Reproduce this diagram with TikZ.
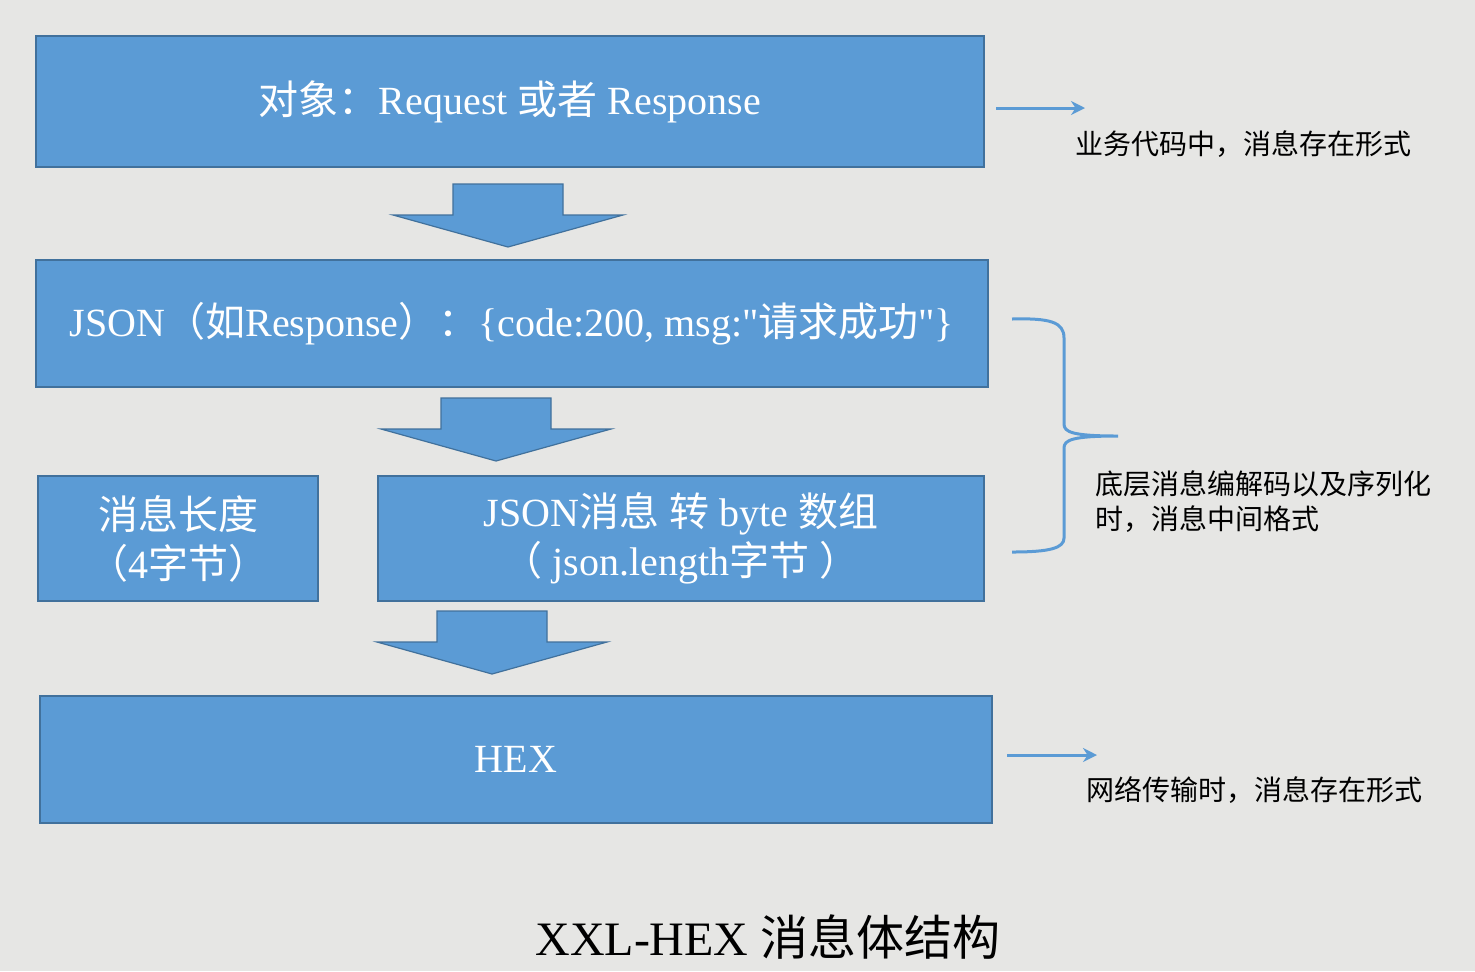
\documentclass[tikz,border=0pt]{standalone}
\usepackage{fontspec}
\setmainfont{Liberation Serif}
\newfontfamily\cjk{Noto Sans CJK SC}
\usepackage{tikz}
\usetikzlibrary{arrows.meta}
\definecolor{boxblue}{HTML}{5B9BD5}
\definecolor{boxedge}{HTML}{41719C}
\definecolor{paper}{HTML}{E6E6E4}
\tikzstyle{bluebox} = [rectangle, draw=boxedge, fill=boxblue, line width=1pt, text=white, align=center, inner sep=0pt, font=\fontsize{20}{24.5}\selectfont]
\tikzstyle{blockarrow} = [draw=boxedge, fill=boxblue, line width=0.6pt]
\tikzstyle{sidearrow} = [draw=boxblue, line width=1.5pt, -{Stealth[length=7pt,width=7pt]}]
\tikzstyle{brace} = [draw=boxblue, line width=1.5pt]
\tikzstyle{note} = [align=left, inner sep=0pt, font=\cjk\fontsize{14}{17.5}\selectfont]
\newcommand{\downblock}[1]{%
  \draw[blockarrow] (#1) ++(-55,0) -- ++(110,0) -- ++(0,31) -- ++(60,0) -- ++(-115,32) -- ++(-115,-32) -- ++(60,0) -- cycle;}

\begin{document}
\begin{tikzpicture}[x=0.5pt, y=-0.5pt]
    %背景
    \fill[paper] (0,0) rectangle (1475,971);

    %各层方框
    \node (obj) [bluebox, minimum width=474pt, minimum height=65.5pt] at (510,101.5) {{\cjk 对象：}Request {\cjk 或者} Response};
    \node (json) [bluebox, minimum width=476pt, minimum height=63.5pt] at (512,323.5) {JSON{\cjk （如}Response{\cjk ）：}\{code:200, msg:\textquotedbl{\cjk 请求成功}\textquotedbl\}};
    \node (len) [bluebox, minimum width=140pt, minimum height=62.5pt] at (178,538.5) {{\cjk 消息长度}\\{\cjk （}4{\cjk 字节）}};
    \node (body) [bluebox, minimum width=303pt, minimum height=62.5pt] at (681,538.5) {JSON{\cjk 消息} {\cjk 转} byte {\cjk 数组}\\{\cjk （} json.length{\cjk 字节} {\cjk ）}};
    \node (hex) [bluebox, minimum width=476pt, minimum height=63.5pt] at (516,759.5) {HEX};

    %层间箭头
    \downblock{508,184}
    \downblock{496,398}
    \downblock{492,611}

    %右侧说明
    \node (bizlbl) [note] at (1243,144) {业务代码中，消息存在形式};
    \node (codeclbl) [note, anchor=west] at (1095,501.5) {底层消息编解码以及序列化\\时，消息中间格式};
    \node (netlbl) [note] at (1254,790) {网络传输时，消息存在形式};

    \coordinate (bizfrom) at (996,108);
    \coordinate (bizto) at (1085,108);
    \draw[sidearrow] (bizfrom) -- (bizto);
    \coordinate (netfrom) at (1007,755);
    \coordinate (netto) at (1097,755);
    \draw[sidearrow] (netfrom) -- (netto);

    \coordinate (bracetip) at (1118,436);
    \draw[brace] (1012,319) .. controls (1050,318) and (1064,322) .. (1064,338) -- (1064,424)
        .. controls (1064,432) and (1072,436) .. (bracetip)
        .. controls (1072,436) and (1064,440) .. (1064,448) -- (1064,538)
        .. controls (1064,548) and (1050,552) .. (1012,552);

    %标题
    \node (title) at (768,937) {\fontsize{24}{28}\selectfont XXL-HEX {\cjk 消息体结构}};
\end{tikzpicture}
\end{document}
